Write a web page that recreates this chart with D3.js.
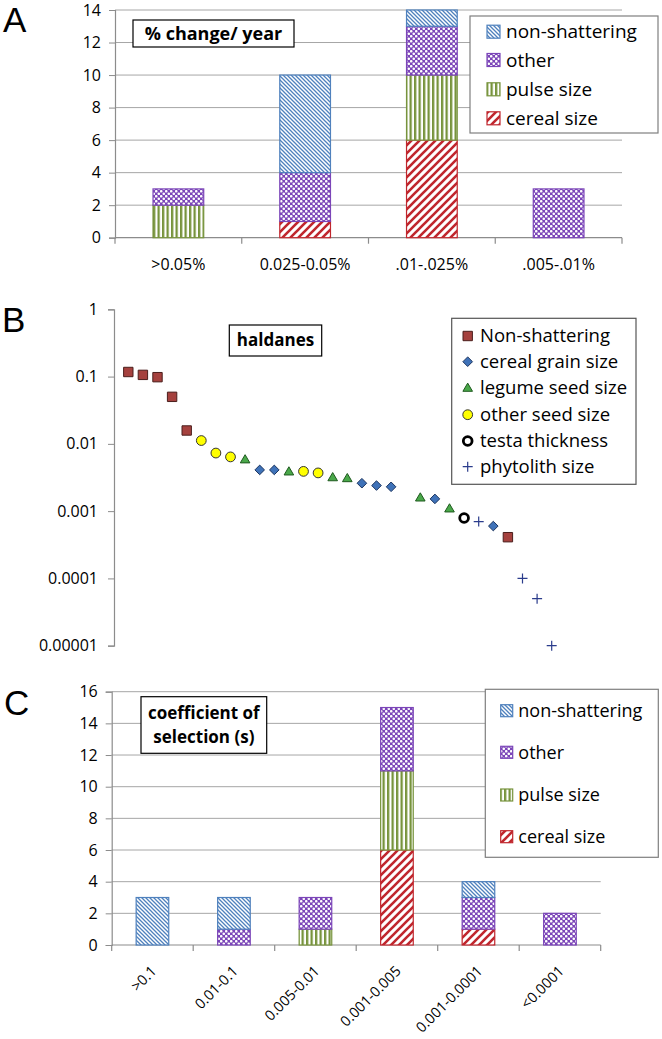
<!DOCTYPE html>
<html><head><meta charset="utf-8">
<script src="https://cdn.jsdelivr.net/npm/d3@7"></script>
<style>
body{margin:0;background:#fff}
svg{display:block}
text{font-family:"Open Sans",sans-serif;fill:#000}
</style>
</head><body>
<svg id="chart" width="662" height="1039"></svg>
<script>
// ---------- DATA ----------
const seriesKeys = ["cereal", "pulse", "other", "nonshat"];   // stacking order, bottom to top
const legendKeys = ["nonshat", "other", "pulse", "cereal"];   // legend order
const seriesLabels = {nonshat: "non-shattering", other: "other", pulse: "pulse size", cereal: "cereal size"};

// Panel A: % change / year
const catsA = [">0.05%", "0.025-0.05%", ".01-.025%", ".005-.01%"];
const cerealA = [0, 1, 6, 0];
const pulseA = [2, 0, 4, 0];
const otherA = [1, 3, 3, 3];
const nonshatA = [0, 6, 1, 0];
const ticksA = [0, 2, 4, 6, 8, 10, 12, 14];

// Panel B: haldanes (rank order, log values)
const rankB = [1, 2, 3, 4, 5, 6, 7, 8, 9, 10, 11, 12, 13, 14, 15, 16, 17, 18, 19, 21, 22, 23, 24, 25, 26, 27, 28, 29, 30];
const valueB = [0.117, 0.106, 0.098, 0.050, 0.0158, 0.0112, 0.0073, 0.0064, 0.0059, 0.0041, 0.0041, 0.0039, 0.0039, 0.0037,
  0.0032, 0.0031, 0.0026, 0.0024, 0.0023, 0.0016, 0.00152, 0.0011, 0.00079, 0.0007, 0.0006, 0.00041, 0.0001, 0.00005, 0.00001];
const typeB = ["ns", "ns", "ns", "ns", "ns", "oth", "oth", "oth", "leg", "cer", "cer", "leg", "oth", "oth",
  "leg", "leg", "cer", "cer", "cer", "leg", "cer", "leg", "testa", "phyto", "cer", "ns", "phyto", "phyto", "phyto"];
const ticksB = [1, 0.1, 0.01, 0.001, 0.0001, 0.00001];
const tickLabelsB = ["1", "0.1", "0.01", "0.001", "0.0001", "0.00001"];
const legendTypesB = ["ns", "cer", "leg", "oth", "testa", "phyto"];
const legendLabelsB = ["Non-shattering", "cereal grain size", "legume seed size", "other seed size", "testa thickness", "phytolith size"];

// Panel C: coefficient of selection (s)
const catsC = [">0.1", "0.01-0.1", "0.005-0.01", "0.001-0.005", "0.001-0.0001", "<0.0001"];
const cerealC = [0, 0, 0, 6, 1, 0];
const pulseC = [0, 0, 1, 5, 0, 0];
const otherC = [0, 1, 2, 4, 2, 2];
const nonshatC = [3, 2, 0, 0, 1, 0];
const ticksC = [0, 2, 4, 6, 8, 10, 12, 14, 16];

// ---------- STYLE ----------
const col = {nonshat: "#4F81BD", other: "#7B45B8", pulse: "#77933C", cereal: "#C0262D"};
const gridCol = "#A6A6A6", axisCol = "#8C8C8C";

const svg = d3.select("#chart");
const defs = svg.append("defs");

// patterns
(function () {
  let p = defs.append("pattern").attr("id", "p-nonshat").attr("patternUnits", "userSpaceOnUse").attr("width", 4).attr("height", 4);
  p.append("rect").attr("width", 4).attr("height", 4).attr("fill", "#fff");
  p.append("path").attr("d", "M-1,-1L5,5M-1,3L1,5M3,-1L5,1").attr("stroke", col.nonshat).attr("stroke-width", 1.3);

  p = defs.append("pattern").attr("id", "p-cereal").attr("patternUnits", "userSpaceOnUse").attr("width", 8).attr("height", 8);
  p.append("rect").attr("width", 8).attr("height", 8).attr("fill", "#fff");
  p.append("path").attr("d", "M-2,2L2,-2M0,8L8,0M6,10L10,6").attr("stroke", col.cereal).attr("stroke-width", 2.6);

  p = defs.append("pattern").attr("id", "p-pulse").attr("patternUnits", "userSpaceOnUse").attr("width", 4.5).attr("height", 4.5);
  p.append("rect").attr("width", 4.5).attr("height", 4.5).attr("fill", "#fff");
  p.append("rect").attr("x", 0).attr("width", 2.3).attr("height", 4.5).attr("fill", col.pulse);

  p = defs.append("pattern").attr("id", "p-other").attr("patternUnits", "userSpaceOnUse").attr("width", 5).attr("height", 5);
  p.append("rect").attr("width", 5).attr("height", 5).attr("fill", col.other);
  p.append("circle").attr("cx", 1.25).attr("cy", 1.25).attr("r", 1.3).attr("fill", "#fff");
  p.append("circle").attr("cx", 3.75).attr("cy", 3.75).attr("r", 1.3).attr("fill", "#fff");
})();

function panelLetter(t, x, y) {
  svg.append("text").attr("x", x).attr("y", y).text(t)
    .style("font-family", "'Liberation Sans', Arial, sans-serif").style("font-size", "35px");
}

function boxTitle(lines, x0, y0, x1, y1, fs) {
  const g = svg.append("g");
  g.append("rect").attr("x", x0).attr("y", y0).attr("width", x1 - x0).attr("height", y1 - y0)
    .attr("fill", "#fff").attr("stroke", "#000").attr("stroke-width", 1.2);
  const cx = (x0 + x1) / 2, lh = fs * 1.4;
  const top = (y0 + y1) / 2 - lh * (lines.length - 1) / 2;
  lines.forEach((l, i) => {
    g.append("text").attr("x", cx).attr("y", top + i * lh).attr("dy", "0.35em")
      .attr("text-anchor", "middle").style("font-weight", "bold").style("font-size", fs + "px").text(l);
  });
}

function stackedPanel(opt) {
  const g = svg.append("g");
  const x = d3.scaleBand().domain(opt.cats).range([opt.x0, opt.x1]).paddingInner(0.6).paddingOuter(0.3);
  const y = d3.scaleLinear().domain([0, opt.ymax]).range([opt.yb, opt.yt]);
  // gridlines
  g.selectAll(".grid").data(opt.ticks.filter(d => d > 0)).join("line")
    .attr("x1", opt.x0).attr("x2", opt.x1).attr("y1", d => y(d)).attr("y2", d => y(d))
    .attr("stroke", gridCol).attr("stroke-width", 1);
  // y axis
  const ya = g.append("g").attr("transform", `translate(${opt.x0},0)`)
    .call(d3.axisLeft(y).tickValues(opt.ticks).tickSize(6).tickPadding(8).tickFormat(d3.format("d")));
  ya.select(".domain").attr("stroke", axisCol).attr("stroke-width", 1.2);
  ya.selectAll(".tick line").attr("stroke", axisCol);
  ya.selectAll(".tick text").style("font-size", "16px").style("font-family", "'Open Sans',sans-serif").attr("fill", "#000");
  // x axis line & ticks at band boundaries
  g.append("line").attr("x1", opt.x0).attr("x2", opt.x1).attr("y1", opt.yb).attr("y2", opt.yb)
    .attr("stroke", axisCol).attr("stroke-width", 1.2);
  const step = x.step();
  const bounds = d3.range(opt.cats.length + 1).map(i => opt.x0 + i * step);
  g.selectAll(".xt").data(bounds).join("line")
    .attr("x1", d => d).attr("x2", d => d).attr("y1", opt.yb).attr("y2", opt.yb + 6)
    .attr("stroke", axisCol).attr("stroke-width", 1.2);
  // bars
  const rows = opt.cats.map((c, i) => ({cat: c, cereal: opt.data.cereal[i], pulse: opt.data.pulse[i], other: opt.data.other[i], nonshat: opt.data.nonshat[i]}));
  const stacked = d3.stack().keys(seriesKeys)(rows);
  stacked.forEach(s => {
    g.selectAll(null).data(s.filter(d => d[1] - d[0] > 0)).join("rect")
      .attr("x", d => x(d.data.cat)).attr("width", x.bandwidth())
      .attr("y", d => y(d[1])).attr("height", d => y(d[0]) - y(d[1]))
      .attr("fill", `url(#p-${s.key})`).attr("stroke", col[s.key]).attr("stroke-width", 1.2);
  });
  // x labels
  if (opt.rotate) {
    g.selectAll(".xl").data(opt.cats).join("text")
      .attr("transform", d => `translate(${x(d) + x.bandwidth() / 2 + 5},${opt.yb + 27}) rotate(-45)`)
      .attr("text-anchor", "end").style("font-size", "14.5px").text(d => d);
  } else {
    g.selectAll(".xl").data(opt.cats).join("text")
      .attr("x", d => x(d) + x.bandwidth() / 2).attr("y", opt.yb + 32)
      .attr("text-anchor", "middle").style("font-size", "16px").text(d => d);
  }
  return {x, y};
}

function barLegend(x0, y0, x1, y1, ys, fs, sw, tx) {
  const g = svg.append("g");
  g.append("rect").attr("x", x0).attr("y", y0).attr("width", x1 - x0).attr("height", y1 - y0)
    .attr("fill", "#fff").attr("stroke", "#7F7F7F").attr("stroke-width", 1.2);
  legendKeys.forEach((k, i) => {
    g.append("rect").attr("x", sw[0]).attr("y", ys[i] - sw[1] / 2).attr("width", sw[1]).attr("height", sw[1])
      .attr("fill", `url(#p-${k})`).attr("stroke", col[k]).attr("stroke-width", 1.2);
    g.append("text").attr("x", tx).attr("y", ys[i]).attr("dy", "0.35em").style("font-size", fs + "px").text(seriesLabels[k]);
  });
}

// ---------- PANEL A ----------
stackedPanel({cats: catsA, data: {cereal: cerealA, pulse: pulseA, other: otherA, nonshat: nonshatA},
  x0: 115, x1: 622, yb: 237.7, yt: 10, ymax: 14, ticks: ticksA, rotate: false});
boxTitle(["% change/ year"], 133, 20, 294, 47, 18);
barLegend(470, 16, 658, 133, [31.7, 60, 89.3, 118.3], 19, [487, 13], 506);
panelLetter("A", 3, 32);

// ---------- PANEL B ----------
(function () {
  const g = svg.append("g");
  const x = d3.scaleLinear().domain([0, 35]).range([113.7, 624.7]);
  const y = d3.scaleLog().domain([0.00001, 1]).range([645.7, 309.3]);
  const ya = g.append("g").attr("transform", "translate(114,0)")
    .call(d3.axisLeft(y).tickValues(ticksB).tickSize(6).tickPadding(10).tickFormat((d, i) => tickLabelsB[i]));
  ya.select(".domain").attr("stroke", axisCol).attr("stroke-width", 1.2);
  ya.selectAll(".tick line").attr("stroke", axisCol);
  ya.selectAll(".tick text").style("font-size", "16px").style("font-family", "'Open Sans',sans-serif").attr("fill", "#000");

  const sym = {
    ns: {d: "M-4.7,-4.7H4.7V4.7H-4.7Z", fill: "#A5413E", stroke: "#4A1E1C", sw: 1},
    cer: {d: "M0,-4.8L4.8,0L0,4.8L-4.8,0Z", fill: "#3F72B8", stroke: "#1C3560", sw: 1},
    leg: {d: "M0,-4.6L4.8,3.6H-4.8Z", fill: "#4AA84A", stroke: "#1F5A1F", sw: 1},
    oth: {d: d3.symbol().type(d3.symbolCircle).size(75)(), fill: "#FFFF00", stroke: "#333", sw: 1},
    testa: {d: d3.symbol().type(d3.symbolCircle).size(60)(), fill: "#fff", stroke: "#000", sw: 2.8},
    phyto: {d: "M-5,0H5M0,-5V5", fill: "none", stroke: "#2B3C8C", sw: 1.2}
  };
  function drawSym(sel, t, cx, cy) {
    const s = sym[t];
    sel.append("path").attr("transform", `translate(${cx},${cy})`).attr("d", s.d)
      .attr("fill", s.fill).attr("stroke", s.stroke).attr("stroke-width", s.sw);
  }
  rankB.forEach((r, i) => drawSym(g, typeB[i], x(r), y(valueB[i])));

  // legend
  const lg = svg.append("g");
  lg.append("rect").attr("x", 451.7).attr("y", 318.3).attr("width", 184.3).attr("height", 166)
    .attr("fill", "#fff").attr("stroke", "#555").attr("stroke-width", 1.2);
  const lys = [336, 361.7, 387.7, 414.7, 441, 466.7];
  legendTypesB.forEach((t, i) => {
    drawSym(lg, t, 467.7, lys[i]);
    lg.append("text").attr("x", 480).attr("y", lys[i]).attr("dy", "0.35em").style("font-size", "18.5px").text(legendLabelsB[i]);
  });
})();
boxTitle(["haldanes"], 229.3, 325, 321.7, 356, 17);
panelLetter("B", 2, 331.7);

// ---------- PANEL C ----------
stackedPanel({cats: catsC, data: {cereal: cerealC, pulse: pulseC, other: otherC, nonshat: nonshatC},
  x0: 111.7, x1: 600.7, yb: 945, yt: 691.7, ymax: 16, ticks: ticksC, rotate: true});
boxTitle(["coefficient of", "selection (s)"], 141, 696.7, 266.7, 753.3, 17);
barLegend(485.3, 689.3, 658.3, 857.3, [710.7, 752.3, 795, 836.7], 18, [500.7, 12], 518.3);
panelLetter("C", 4, 715);
</script>
</body></html>
